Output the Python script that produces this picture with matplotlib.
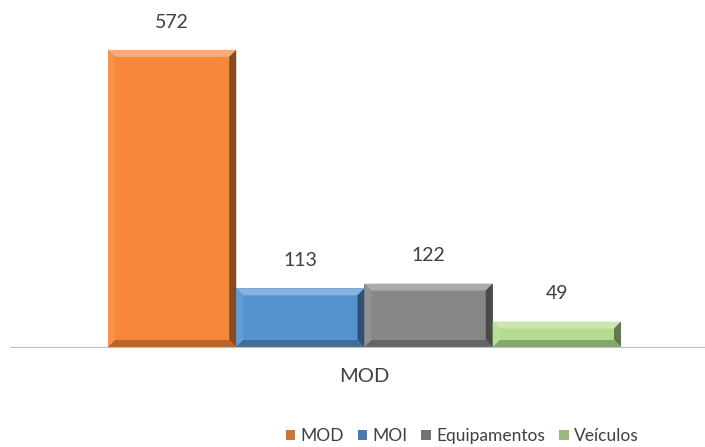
import numpy as np
import matplotlib.pyplot as plt
from matplotlib.patches import Polygon
import matplotlib.colors as mcolors

plt.rcParams['font.family'] = ['Lato', 'DejaVu Sans']

categories = ["MOD", "MOI", "Equipamentos", "Veículos"]
values = [572, 113, 122, 49]
colors = ["#F7883A", "#5592CF", "#878787", "#B3DC91"]

fig = plt.figure(figsize=(7.05, 4.47), dpi=100)
ax = fig.add_axes([10 / 705, 100 / 447, 695 / 705, 347 / 447])

x = np.arange(len(values))
bars = ax.bar(x, values, width=1.0, color=colors, edgecolor="none", zorder=2)

ax.set_xlim(-1.264, 4.155)
ax.set_ylim(0, 668)

# bevel effect
px_x = (4.155 + 1.264) / 695
px_y = 668 / 347
bw, bh = 7 * px_x, 7 * px_y

def shade(c, f):
    r, g, b = mcolors.to_rgb(c)
    if f > 0:
        return (r + (1 - r) * f, g + (1 - g) * f, b + (1 - b) * f)
    return (r * (1 + f), g * (1 + f), b * (1 + f))

for rect, c in zip(bars, colors):
    x0, y0 = rect.get_x(), rect.get_y()
    x1, y1 = x0 + rect.get_width(), y0 + rect.get_height()
    h = min(bh, (y1 - y0) / 2.5)
    sides = [
        ([(x0, y1), (x1, y1), (x1 - bw, y1 - h), (x0 + bw, y1 - h)], 0.3),
        ([(x0, y0), (x0, y1), (x0 + bw, y1 - h), (x0 + bw, y0 + h)], 0.08),
        ([(x1, y0), (x1, y1), (x1 - bw, y1 - h), (x1 - bw, y0 + h)], -0.45),
        ([(x0, y0), (x1, y0), (x1 - bw, y0 + h), (x0 + bw, y0 + h)], -0.25),
    ]
    for pts, f in sides:
        ax.add_patch(Polygon(pts, closed=True, facecolor=shade(c, f), edgecolor="none", zorder=3))
    ax.annotate(str(rect.get_height()), (rect.get_x() + rect.get_width() / 2, y1),
                xytext=(0, 20), textcoords="offset points", ha="center", va="center",
                fontsize=14, color="#404040")

for s in ["top", "right", "left"]:
    ax.spines[s].set_visible(False)
ax.spines["bottom"].set_color("#BFBFBF")
ax.spines["bottom"].set_zorder(4)
ax.set_yticks([])
ax.set_xticks([1.5])
ax.set_xticklabels(["MOD"], fontsize=14.5, color="#404040")
ax.tick_params(axis="x", length=0, pad=15)

handles = [plt.Rectangle((0, 0), 1, 1, facecolor=shade(c, -0.15), edgecolor="none") for c in colors]
fig.legend(handles, categories, loc="center", bbox_to_anchor=(462 / 705, 1 - 436 / 447),
           ncol=4, frameon=False, fontsize=12.5, handlelength=0.55, handleheight=0.55,
           handletextpad=0.3, columnspacing=0.8, labelcolor="#404040")

fig.savefig("out.png", dpi=100)
